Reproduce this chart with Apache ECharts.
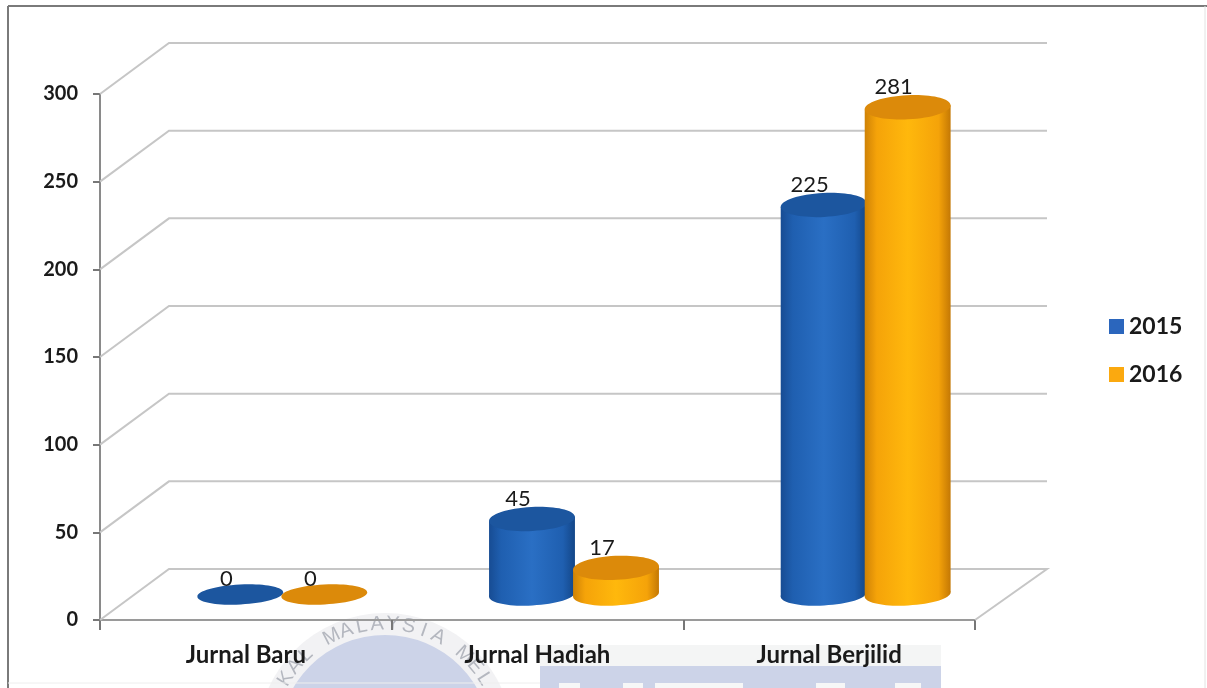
<!DOCTYPE html>
<html>
<head>
<meta charset="utf-8">
<style>html,body{margin:0;padding:0;background:#fff}#chart{width:1207px;height:688px}</style>
<script src="https://cdn.jsdelivr.net/npm/echarts@6/dist/echarts.min.js"></script>
</head>
<body>
<div id="chart"></div>
<script>
const categories = ['Jurnal Baru', 'Jurnal Hadiah', 'Jurnal Berjilid'];
const years = ['2015', '2016'];
const values2015 = [0, 45, 225];
const values2016 = [0, 17, 281];
const yTicks = [0, 50, 100, 150, 200, 250, 300];

// 3D look
const depthX = 69, depthY = 51, wallExtra = 3;
const barHalf = 43, barShift = 42, barRy = 11, tilt = 0.05, barScale = 0.995, barDrop = 3;

const blue = { top: '#1c569f', stops: ['#174c93', '#1f5fb0', '#2a6fc4', '#1f5fb0', '#134688'] };
const orange = { top: '#dc8a0a', stops: ['#cf8206', '#f5a309', '#ffb80c', '#f5a309', '#c47804'] };

function bodyFill(c) {
  return new echarts.graphic.LinearGradient(0, 0, 1, 0, [
    { offset: 0, color: c.stops[0] },
    { offset: 0.14, color: c.stops[1] },
    { offset: 0.5, color: c.stops[2] },
    { offset: 0.86, color: c.stops[3] },
    { offset: 1, color: c.stops[4] }
  ]);
}

function cylinder(side, c) {
  return function (params, api) {
    const v = api.value(1);
    const front = api.coord([api.value(0), 0]);
    const cx = front[0] + depthX / 2 + 2 + side * barShift;
    const baseY = front[1] - depthY / 2;
    const rise = (front[1] - api.coord([api.value(0), v])[1]) * barScale;
    const topY = v > 0 ? baseY + barDrop - rise : baseY;
    const dx = barHalf * Math.cos(tilt), dy = barHalf * Math.sin(tilt);
    const children = [];
    if (v > 0) {
      children.push({
        type: 'ellipse', shape: { cx: cx, cy: baseY, rx: barHalf, ry: barRy },
        rotation: tilt, originX: cx, originY: baseY, style: { fill: bodyFill(c) }
      });
      children.push({
        type: 'polygon',
        shape: { points: [[cx - dx, topY + dy], [cx + dx, topY - dy], [cx + dx, baseY - dy], [cx - dx, baseY + dy]] },
        style: { fill: bodyFill(c) }
      });
    }
    children.push({
      type: 'ellipse', shape: { cx: cx, cy: topY, rx: barHalf, ry: v > 0 ? barRy + 1 : barRy - 1 },
      rotation: tilt, originX: cx, originY: topY, style: { fill: c.top }
    });
    children.push({
      type: 'text', x: cx - 14, y: topY - (v > 0 ? 20 : 16),
      style: { text: String(v), fill: '#1a1a1a', font: '22px Lato', align: 'center', verticalAlign: 'middle' }
    });
    return { type: 'group', children: children };
  };
}

function wallLine(params, api) {
  const cs = params.coordSys;
  const t = api.value(0);
  const y = api.coord([0, t])[1];
  const x0 = cs.x, x1 = cs.x + cs.width;
  const points = [[x0, y], [x0 + depthX, y - depthY], [x1 + depthX + wallExtra, y - depthY]];
  if (t === 0) points.push([x1, y]); // right edge of the floor
  return {
    type: 'polyline',
    shape: { points: points },
    style: { fill: null, stroke: '#c6c6c6', lineWidth: 2 }
  };
}

// page frame and the stamp showing through the scan
const stamp = [
  { type: 'rect', shape: { x: 540, y: 645, width: 401, height: 43 }, style: { fill: '#f4f5f5' }, silent: true },
  { type: 'rect', shape: { x: 540, y: 666, width: 401, height: 22 }, style: { fill: '#ccd3e8' }, silent: true },
  { type: 'circle', shape: { cx: 385, cy: 741, r: 128 }, style: { fill: '#f2f2f4' }, silent: true },
  { type: 'circle', shape: { cx: 385, cy: 741, r: 106 }, style: { fill: '#ccd3e8' }, silent: true }
];
[[559, 21], [623, 20], [655, 88], [816, 29], [895, 26]].forEach(b => {
  stamp.push({ type: 'rect', shape: { x: b[0], y: 683, width: b[1], height: 5 }, style: { fill: '#f6f7f7' }, silent: true });
});
const ringText = 'KAL MALAYSIA MEL';
for (let i = 0; i < ringText.length; i++) {
  const a = (i - (ringText.length - 1) / 2) * 0.135;
  stamp.push({
    type: 'text', x: 385 + 117 * Math.sin(a), y: 741 - 117 * Math.cos(a), rotation: -a, silent: true,
    style: { text: ringText[i], fill: '#b4b7bf', font: '20px "Liberation Sans"', align: 'center', verticalAlign: 'middle' }
  });
}
const frame = [
  { type: 'line', shape: { x1: 8, y1: 6, x2: 1207, y2: 6 }, style: { stroke: '#7a7a7a', lineWidth: 2 }, silent: true },
  { type: 'line', shape: { x1: 8, y1: 6, x2: 8, y2: 688 }, style: { stroke: '#7a7a7a', lineWidth: 2 }, silent: true },
  { type: 'line', shape: { x1: 1205, y1: 6, x2: 1205, y2: 688 }, style: { stroke: '#e2e2e2', lineWidth: 1 }, silent: true },
  { type: 'line', shape: { x1: 8, y1: 683, x2: 540, y2: 683 }, style: { stroke: '#eeeeee', lineWidth: 1 }, silent: true }
];

const chart = echarts.init(document.getElementById('chart'));
chart.setOption({
  animation: false,
  backgroundColor: '#fff',
  graphic: { elements: stamp.concat(frame).map(e => Object.assign({ z: -1 }, e)) },
  grid: { left: 100, right: 232, top: 94, bottom: 68 },
  legend: {
    orient: 'vertical', left: 1104, top: 310,
    icon: 'rect', itemWidth: 15, itemHeight: 15, itemGap: 25,
    textStyle: { fontFamily: 'Lato', fontWeight: 'bold', fontSize: 23, color: '#1a1a1a' },
    data: [
      { name: years[0], itemStyle: { color: '#2b66bd' } },
      { name: years[1], itemStyle: { color: '#fba90f' } }
    ]
  },
  xAxis: {
    type: 'category', data: categories,
    axisLine: { lineStyle: { color: '#9a9a9a', width: 2 } },
    axisTick: { show: true, length: 10, lineStyle: { color: '#777', width: 2 } },
    axisLabel: { margin: 23, fontFamily: 'Lato', fontWeight: 'bold', fontSize: 24, color: '#1a1a1a', interval: 0 }
  },
  yAxis: {
    type: 'value', min: 0, max: 300, interval: 50,
    splitLine: { show: false },
    axisLine: { show: true, lineStyle: { color: '#8a8a8a', width: 2 } },
    axisTick: { show: true, length: 7, lineStyle: { color: '#777', width: 2 } },
    axisLabel: { margin: 22, fontFamily: 'Lato', fontWeight: 'bold', fontSize: 20, color: '#1a1a1a', padding: [3, 0, 0, 0] }
  },
  series: [
    { type: 'custom', name: 'walls', silent: true, z: 1, clip: false, renderItem: wallLine, data: yTicks.map(t => [t]), encode: { y: 0 } },
    { type: 'custom', name: years[0], z: 3, clip: false, renderItem: cylinder(-1, blue), itemStyle: { color: '#2b66bd' },
      data: values2015.map((v, i) => [i, v]), encode: { x: 0, y: 1 } },
    { type: 'custom', name: years[1], z: 4, clip: false, renderItem: cylinder(1, orange), itemStyle: { color: '#fba90f' },
      data: values2016.map((v, i) => [i, v]), encode: { x: 0, y: 1 } }
  ]
});
</script>
</body>
</html>
